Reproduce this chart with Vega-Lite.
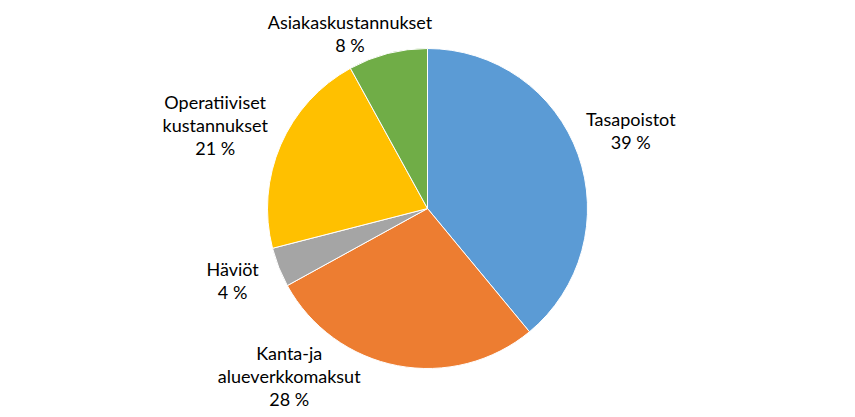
{
  "$schema": "https://vega.github.io/schema/vega-lite/v6.json",
  "width": 855,
  "height": 417,
  "autosize": {"type": "none"},
  "padding": 0,
  "background": "white",
  "view": {"stroke": null},
  "data": {
    "values": [
      {"i": 1, "label": "Tasapoistot", "value": 39},
      {"i": 2, "label": "Kanta-ja\nalueverkkomaksut", "value": 28},
      {"i": 3, "label": "Häviöt", "value": 4},
      {"i": 4, "label": "Operatiiviset\nkustannukset", "value": 21},
      {"i": 5, "label": "Asiakaskustannukset", "value": 8}
    ]
  },
  "layer": [
    {
      "mark": {"type": "arc", "radius": 160, "stroke": "white", "strokeWidth": 1},
      "encoding": {
        "theta": {"field": "value", "type": "quantitative", "stack": true, "scale": {"domain": [0, 100]}},
        "order": {"field": "i", "type": "quantitative"},
        "color": {
          "field": "label",
          "type": "nominal",
          "scale": {
            "domain": ["Tasapoistot", "Kanta-ja\nalueverkkomaksut", "Häviöt", "Operatiiviset\nkustannukset", "Asiakaskustannukset"],
            "range": ["#5B9BD5", "#ED7D31", "#A5A5A5", "#FFC000", "#70AD47"]
          },
          "legend": null
        }
      }
    },
    {
      "transform": [
        {"window": [{"op": "sum", "field": "value", "as": "cum"}], "sort": [{"field": "i"}], "frame": [null, 0]},
        {"calculate": "datum.cum - datum.value / 2", "as": "mid"},
        {"calculate": "datum.label + '\\n' + datum.value + ' %'", "as": "txt"}
      ],
      "encoding": {
        "theta": {"field": "mid", "type": "quantitative", "stack": false, "scale": {"domain": [0, 100]}},
        "text": {"field": "txt", "type": "nominal"}
      },
      "layer": [
        {
          "transform": [{"filter": "datum.i == 1"}],
          "mark": {"type": "text", "radius": 215, "dx": 1, "dy": -15, "lineBreak": "\n", "font": "Lato", "fontSize": 18, "lineHeight": 23, "align": "center", "baseline": "middle", "color": "#000000"}
        },
        {
          "transform": [{"filter": "datum.i == 2"}],
          "mark": {"type": "text", "radius": 215, "dx": -98, "dy": -65, "lineBreak": "\n", "font": "Lato", "fontSize": 18, "lineHeight": 23, "align": "center", "baseline": "middle", "color": "#000000"}
        },
        {
          "transform": [{"filter": "datum.i == 3"}],
          "mark": {"type": "text", "radius": 215, "dx": 5, "dy": -17, "lineBreak": "\n", "font": "Lato", "fontSize": 18, "lineHeight": 23, "align": "center", "baseline": "middle", "color": "#000000"}
        },
        {
          "transform": [{"filter": "datum.i == 4"}],
          "mark": {"type": "text", "radius": 215, "dx": -15, "dy": -19, "lineBreak": "\n", "font": "Lato", "fontSize": 18, "lineHeight": 23, "align": "center", "baseline": "middle", "color": "#000000"}
        },
        {
          "transform": [{"filter": "datum.i == 5"}],
          "mark": {"type": "text", "radius": 215, "dx": -24, "dy": 24, "lineBreak": "\n", "font": "Lato", "fontSize": 18, "lineHeight": 23, "align": "center", "baseline": "middle", "color": "#000000"}
        }
      ]
    }
  ]
}
